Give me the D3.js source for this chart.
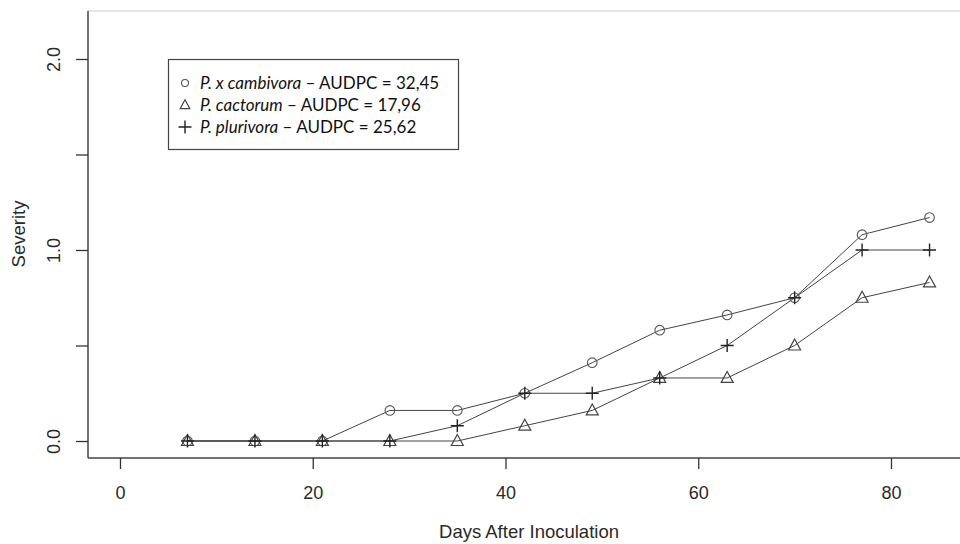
<!DOCTYPE html>
<html>
<head>
<meta charset="utf-8">
<script src="https://cdn.jsdelivr.net/npm/d3@7"></script>
<style>
  body { margin: 0; background: #fff; }
  svg { display: block; }
  .axis text { font-family: "Liberation Sans", Arial, sans-serif; font-size: 18px; fill: #2a2a2a; }
  .axis line { stroke: #333; stroke-width: 1.3; }
</style>
</head>
<body>
<script>
// data
var days = [7, 14, 21, 28, 35, 42, 49, 56, 63, 70, 77, 84];
var cambivora = [0, 0, 0, 0.16, 0.16, 0.25, 0.41, 0.58, 0.66, 0.75, 1.08, 1.17];
var cactorum  = [0, 0, 0, 0, 0, 0.08, 0.16, 0.33, 0.33, 0.5, 0.75, 0.83];
var plurivora = [0, 0, 0, 0, 0.08, 0.25, 0.25, 0.33, 0.5, 0.75, 1.0, 1.0];
var xTicks = [0, 20, 40, 60, 80];
var yTicks = [0, 0.5, 1, 1.5, 2];
var yLabels = ["0.0", "", "1.0", "", "2.0"];
var legendNames = ["P. x cambivora", "P. cactorum", "P. plurivora"];
var legendAudpc = ["32,45", "17,96", "25,62"];

var width = 960, height = 544;

var svg = d3.select("body").append("svg")
    .attr("width", width)
    .attr("height", height);

// scales: value -> pixel
var xScale = d3.scaleLinear().domain([0, 80]).range([120, 891]);
var yScale = d3.scaleLinear().domain([0, 2]).range([441, 59]);

var boxLeft = 88, boxTop = 11, boxBottom = 458, boxRight = 960;

// plot frame
svg.append("line")
    .attr("x1", boxLeft).attr("x2", boxRight)
    .attr("y1", boxTop).attr("y2", boxTop)
    .attr("stroke", "#ddd").attr("stroke-width", 1.5);
svg.append("line")
    .attr("x1", boxLeft).attr("x2", boxLeft)
    .attr("y1", boxTop).attr("y2", boxBottom)
    .attr("stroke", "#444").attr("stroke-width", 1.5);
svg.append("line")
    .attr("x1", boxLeft).attr("x2", boxRight)
    .attr("y1", boxBottom).attr("y2", boxBottom)
    .attr("stroke", "#444").attr("stroke-width", 1.5);

// x axis
var xAxis = d3.axisBottom(xScale).tickValues(xTicks).tickSize(11).tickPadding(17);
var gx = svg.append("g")
    .attr("class", "axis")
    .attr("transform", "translate(0," + boxBottom + ")")
    .call(xAxis);
gx.select(".domain").remove();

// y axis
var yAxis = d3.axisLeft(yScale).tickValues(yTicks).tickSize(12)
    .tickFormat(function(d, i) { return yLabels[i]; });
var gy = svg.append("g")
    .attr("class", "axis")
    .attr("transform", "translate(" + boxLeft + ",0)")
    .call(yAxis);
gy.select(".domain").remove();
gy.selectAll("text")
    .attr("x", 0).attr("dy", 0)
    .attr("text-anchor", "middle")
    .attr("transform", "translate(-28,0) rotate(-90)");

// axis titles (centred on the plot region, like R)
svg.append("text")
    .attr("x", 529).attr("y", 538)
    .attr("text-anchor", "middle")
    .attr("font-family", "Liberation Sans, Arial, sans-serif")
    .attr("font-size", 18.5).attr("fill", "#2a2a2a")
    .text("Days After Inoculation");

svg.append("text")
    .attr("transform", "translate(24.5,234) rotate(-90)")
    .attr("text-anchor", "middle")
    .attr("font-family", "Liberation Sans, Arial, sans-serif")
    .attr("font-size", 18.5).attr("fill", "#2a2a2a")
    .text("Severity");

// lines
var line = d3.line()
    .x(function(d) { return xScale(d[0]); })
    .y(function(d) { return yScale(d[1]); });

var series = [cambivora, cactorum, plurivora];
series.forEach(function(vals) {
  svg.append("path")
      .datum(days.map(function(d, i) { return [d, vals[i]]; }))
      .attr("fill", "none")
      .attr("stroke", "#444")
      .attr("stroke-width", 1)
      .attr("d", line);
});

// symbols
function drawSymbol(g, type, k) {
  k = k || 1;
  if (type === 0) {
    g.append("circle").attr("r", 4.8 * k)
        .attr("fill", "none")
        .attr("stroke", "#555").attr("stroke-width", 1.1);
  } else if (type === 1) {
    g.append("path").attr("d", "M0," + (-6.5 * k) + "L" + (6 * k) + "," + (4.5 * k) + "L" + (-6 * k) + "," + (4.5 * k) + "Z")
        .attr("fill", "none")
        .attr("stroke", "#444").attr("stroke-width", 1.2);
  } else {
    g.append("path").attr("d", "M" + (-6.5 * k) + ",0H" + (6.5 * k) + "M0," + (-6.5 * k) + "V" + (6.5 * k))
        .attr("stroke", "#222").attr("stroke-width", 1.4);
  }
}

series.forEach(function(vals, s) {
  svg.append("g").selectAll("g")
      .data(days.map(function(d, i) { return [d, vals[i]]; }))
    .enter().append("g")
      .attr("transform", function(d) { return "translate(" + xScale(d[0]) + "," + yScale(d[1]) + ")"; })
      .each(function() { drawSymbol(d3.select(this), s); });
});

// legend
var legend = svg.append("g");
legend.append("rect")
    .attr("x", 168.5).attr("y", 59.5)
    .attr("width", 290).attr("height", 90)
    .attr("fill", "#fff")
    .attr("stroke", "#444").attr("stroke-width", 1.2);

var legendScale = [0.72, 0.8, 1];
var rows = legend.selectAll("g.row")
    .data(legendNames)
  .enter().append("g")
    .attr("class", "row")
    .attr("transform", function(d, i) { return "translate(0," + (83 + i * 22) + ")"; });

rows.each(function(d, i) {
  var r = d3.select(this);
  var sym = r.append("g").attr("transform", "translate(185,0)");
  drawSymbol(sym, i, legendScale[i]);
  var t = r.append("text")
      .attr("x", 200).attr("dy", "0.36em")
      .attr("font-family", "Lato, 'Open Sans', sans-serif")
      .attr("font-size", 17).attr("fill", "#111");
  t.append("tspan").attr("font-style", "italic").text(d);
  t.append("tspan").text(" \u2013 AUDPC = " + legendAudpc[i]);
});
</script>
</body>
</html>
